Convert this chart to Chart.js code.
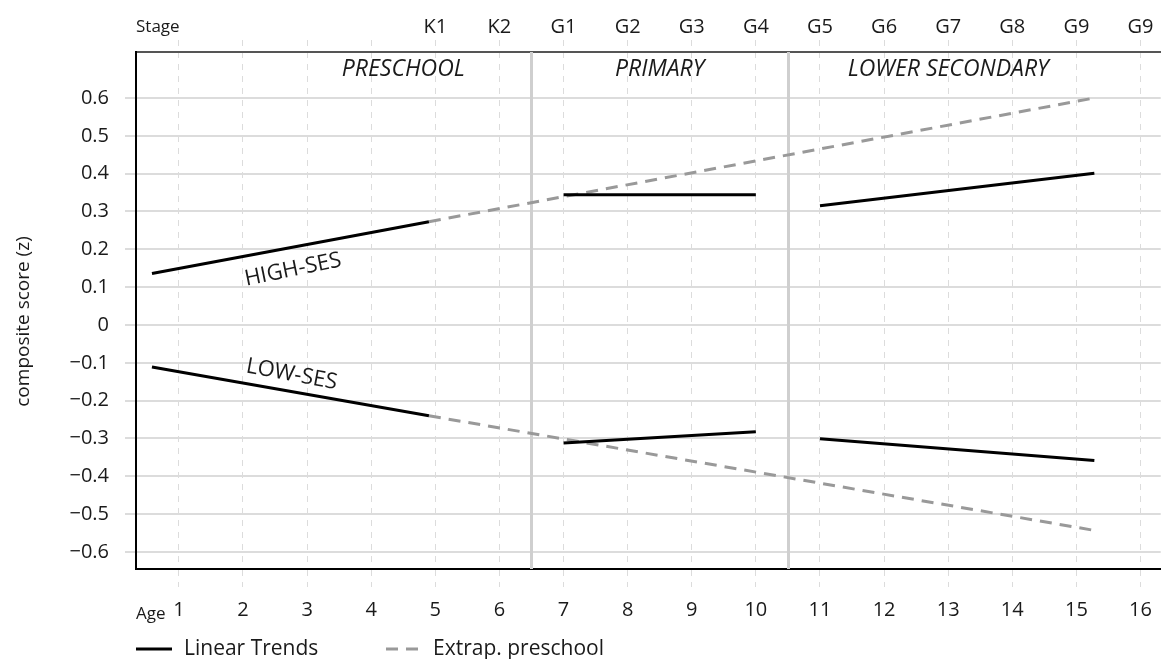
<!DOCTYPE html>
<html>
<head>
<meta charset="utf-8">
<script src="https://cdn.jsdelivr.net/npm/chart.js@4.4.1/dist/chart.umd.min.js"></script>
<style>
  html, body { margin: 0; padding: 0; background: #fff; }
  #wrap { width: 1163px; height: 659px; }
</style>
</head>
<body>
<div id="wrap"><canvas id="chart"></canvas></div>
<script>
// ages (x) of each fitted segment
var preAges = [0.58, 4.9];
var priAges = [7, 10];
var secAges = [11, 15.28];
var extrapAges = [4.9, 15.28];

// composite scores (z)
var highPre = [0.136, 0.273];
var lowPre = [-0.111, -0.240];
var highPri = [0.344, 0.344];
var lowPri = [-0.312, -0.282];
var highSec = [0.315, 0.401];
var lowSec = [-0.301, -0.358];
var highExtrap = [0.273, 0.600];
var lowExtrap = [-0.240, -0.543];

// axes
var ageTicks = [1, 2, 3, 4, 5, 6, 7, 8, 9, 10, 11, 12, 13, 14, 15, 16];
var stageLabels = ['', '', '', '', 'K1', 'K2', 'G1', 'G2', 'G3', 'G4', 'G5', 'G6', 'G7', 'G8', 'G9', 'G9'];
var yTicks = [-0.6, -0.5, -0.4, -0.3, -0.2, -0.1, 0, 0.1, 0.2, 0.3, 0.4, 0.5, 0.6];

// school stages
var stageBreaks = [6.5, 10.5];
var stageNames = ['PRESCHOOL', 'PRIMARY', 'LOWER SECONDARY'];
var stageNameAge = [4.5, 8.5, 13];

var FONT = "'Open Sans', 'Noto Sans', sans-serif";
var TEXT = '#1a1a1a';

function pts(xs, ys) {
  return xs.map(function (x, i) { return { x: x, y: ys[i] }; });
}

function solid(data) {
  return { data: data, borderColor: '#000', borderWidth: 3, pointRadius: 0, fill: false, tension: 0 };
}
function dashed(data) {
  return { data: data, borderColor: '#999', borderWidth: 3, borderDash: [12, 8], pointRadius: 0, fill: false, tension: 0 };
}

function fmt(v) {
  if (Math.abs(v) < 1e-9) return '0';
  var s = Math.abs(v).toFixed(1);
  return v < 0 ? '\u2212' + s : s;
}

var decor = {
  id: 'decor',
  beforeDatasetsDraw: function (chart) {
    var ctx = chart.ctx, a = chart.chartArea, x = chart.scales.x;
    ctx.save();
    ctx.strokeStyle = '#cfcfcf';
    ctx.lineWidth = 3;
    stageBreaks.forEach(function (b) {
      var px = Math.round(x.getPixelForValue(b)) + 0.5;
      ctx.beginPath();
      ctx.moveTo(px, a.top);
      ctx.lineTo(px, a.bottom);
      ctx.stroke();
    });
    ctx.restore();
  },
  afterDraw: function (chart) {
    var ctx = chart.ctx, a = chart.chartArea, x = chart.scales.x, y = chart.scales.y;
    ctx.save();
    ctx.fillStyle = TEXT;
    ctx.textAlign = 'center';
    ctx.textBaseline = 'middle';

    // stage names
    ctx.font = 'italic 23px ' + FONT;
    stageNames.forEach(function (n, i) {
      ctx.fillText(n, x.getPixelForValue(stageNameAge[i]), a.top + 17);
    });

    // series labels
    ctx.font = '22px ' + FONT;
    ctx.save();
    ctx.translate(x.getPixelForValue(2.78), y.getPixelForValue(0.146));
    ctx.rotate(-11.5 * Math.PI / 180);
    ctx.fillText('HIGH-SES', 0, 0);
    ctx.restore();
    ctx.save();
    ctx.translate(x.getPixelForValue(2.76), y.getPixelForValue(-0.131));
    ctx.rotate(10.5 * Math.PI / 180);
    ctx.fillText('LOW-SES', 0, 0);
    ctx.restore();

    // y axis title
    ctx.save();
    ctx.font = '19px ' + FONT;
    ctx.translate(24, (a.top + a.bottom) / 2 + 11);
    ctx.rotate(-Math.PI / 2);
    ctx.fillText('composite score (z)', 0, 0);
    ctx.restore();

    // axis captions
    ctx.textAlign = 'left';
    ctx.font = '17px ' + FONT;
    ctx.fillText('Stage', a.left, 27);
    ctx.fillText('Age', a.left, 614);

    // legend
    var ly = 649;
    ctx.lineWidth = 3;
    ctx.strokeStyle = '#000';
    ctx.beginPath();
    ctx.moveTo(a.left, ly);
    ctx.lineTo(a.left + 36, ly);
    ctx.stroke();
    ctx.strokeStyle = '#999';
    ctx.setLineDash([12, 8]);
    ctx.beginPath();
    ctx.moveTo(a.left + 250, ly);
    ctx.lineTo(a.left + 286, ly);
    ctx.stroke();
    ctx.setLineDash([]);
    ctx.font = '21px ' + FONT;
    ctx.fillText('Linear Trends', a.left + 48, ly);
    ctx.fillText('Extrap. preschool', a.left + 297, ly);
    ctx.restore();
  }
};

new Chart(document.getElementById('chart'), {
  type: 'line',
  data: {
    datasets: [
      solid(pts(preAges, highPre)),
      solid(pts(preAges, lowPre)),
      solid(pts(priAges, highPri)),
      solid(pts(priAges, lowPri)),
      solid(pts(secAges, highSec)),
      solid(pts(secAges, lowSec)),
      dashed(pts(extrapAges, highExtrap)),
      dashed(pts(extrapAges, lowExtrap))
    ]
  },
  options: {
    responsive: true,
    maintainAspectRatio: false,
    animation: false,
    layout: { padding: 0 },
    plugins: { legend: { display: false }, tooltip: { enabled: false } },
    scales: {
      x: {
        type: 'linear',
        position: 'bottom',
        min: 0.331,
        max: 16.315,
        afterBuildTicks: function (s) { s.ticks = ageTicks.map(function (v) { return { value: v }; }); },
        afterFit: function (s) { s.height = 90; },
        ticks: { color: TEXT, font: { family: FONT, size: 20 }, padding: 11, maxRotation: 0, autoSkip: false },
        grid: { color: '#dcdcdc', lineWidth: 1, tickLength: 18, tickColor: '#dcdcdc', tickBorderDash: [6, 6] },
        border: { color: '#000', width: 2, dash: [6, 6] }
      },
      x2: {
        type: 'linear',
        position: 'top',
        min: 0.331,
        max: 16.315,
        afterBuildTicks: function (s) { s.ticks = ageTicks.map(function (v) { return { value: v }; }); },
        afterFit: function (s) { s.height = 52; },
        ticks: {
          color: TEXT, font: { family: FONT, size: 20 }, padding: 1, maxRotation: 0, autoSkip: false,
          callback: function (v) { return stageLabels[Math.round(v) - 1]; }
        },
        grid: { drawOnChartArea: false, tickLength: 12, tickColor: '#dcdcdc', tickBorderDash: [6, 6] },
        border: { color: '#555', width: 2 }
      },
      y: {
        type: 'linear',
        min: -0.645,
        max: 0.7215,
        afterBuildTicks: function (s) { s.ticks = yTicks.map(function (v) { return { value: v }; }); },
        afterFit: function (s) { s.width = 136; },
        ticks: { color: TEXT, font: { family: FONT, size: 20 }, padding: 16, callback: fmt },
        grid: { color: '#dcdcdc', lineWidth: 2, tickLength: 11, tickColor: '#dcdcdc' },
        border: { color: '#000', width: 2 }
      }
    }
  },
  plugins: [decor]
});
</script>
</body>
</html>
